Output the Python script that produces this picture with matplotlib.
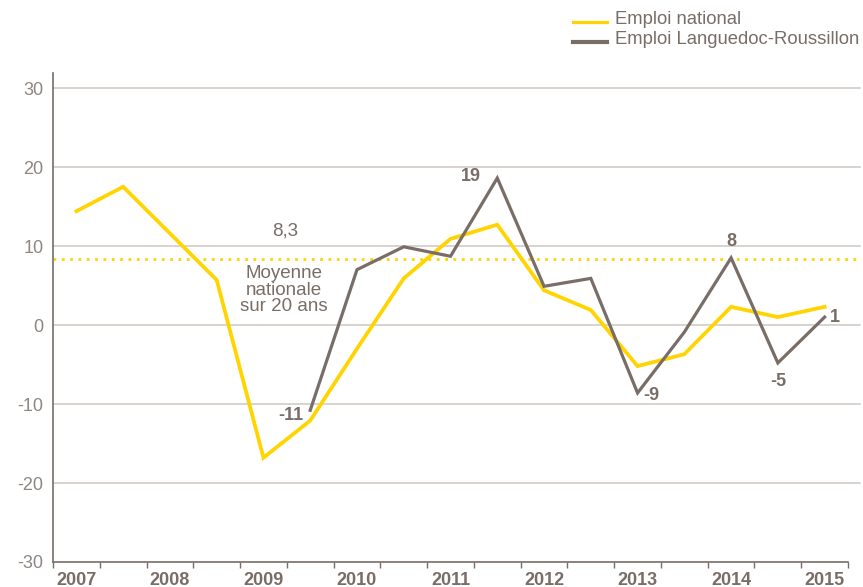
import numpy as np
import matplotlib.pyplot as plt

# semestres 2007-S1 ... 2015-S1
years = ['2007', '2008', '2009', '2010', '2011', '2012', '2013', '2014', '2015']
emploi_national = [14.4, 17.5, 11.6, 5.7, -16.8, -12.1, -3.0, 5.9, 10.9, 12.7,
                   4.4, 1.9, -5.2, -3.7, 2.3, 1.0, 2.3]
emploi_lr = [np.nan, np.nan, np.nan, np.nan, np.nan, -10.8, 7.0, 9.9, 8.7, 18.6,
             4.9, 5.9, -8.6, -0.9, 8.5, -4.8, 1.0]
moyenne_nationale = 8.3
labels_lr = {5: '-11', 9: '19', 12: '-9', 14: '8', 15: '-5', 16: '1'}

YELLOW = '#ffd400'
GREY = '#796d67'
GRID = '#cfc7c3'
LIGHT = '#8e8682'

plt.rcParams['font.family'] = ['Liberation Sans', 'DejaVu Sans']
plt.rcParams['axes.unicode_minus'] = False

fig = plt.figure(figsize=(8.63, 5.87), dpi=100)
ax = fig.add_axes([53 / 863, 25 / 587, 795 / 863, 489 / 587])

x = np.arange(len(emploi_national))
ax.set_xlim(-0.5, len(x) - 0.5)
ax.set_ylim(-30, 31.9)

# grille horizontale qui déborde un peu à droite
for v in range(-20, 31, 10):
    ax.axhline(v, xmin=0, xmax=1.015, color=GRID, lw=1.1, clip_on=False, zorder=1)
ax.axhline(moyenne_nationale, xmin=0, xmax=1.015, color=YELLOW, lw=2,
           linestyle=(0, (1, 2)), clip_on=False, zorder=2)

ax.plot(x, emploi_national, color=YELLOW, lw=2.7, zorder=3, solid_joinstyle='miter')
ax.plot(x, emploi_lr, color=GREY, lw=2.3, zorder=4, solid_joinstyle='miter')

# étiquettes de valeurs
offsets = {5: (-5, -4, 'right', 'center'), 9: (-12, 1, 'right', 'center'),
           12: (4, -2, 'left', 'center'), 14: (0, 6, 'center', 'bottom'),
           15: (0, -7, 'center', 'top'), 16: (4, 0, 'left', 'center')}
for i, txt in labels_lr.items():
    dx, dy, ha, va = offsets[i]
    ax.annotate(txt, (x[i], emploi_lr[i]), xytext=(dx, dy), textcoords='offset points',
                ha=ha, va=va, fontsize=13, fontweight='bold', color=GREY, zorder=5)

ax.text(4.46, 11.9, '8,3', ha='center', va='center', fontsize=13.5, color=GREY)
ax.text(4.44, 4.4, 'Moyenne\nnationale\nsur 20 ans', ha='center', va='center',
        fontsize=13.5, color=GREY, linespacing=0.98)

# axes
for s in ['top', 'right']:
    ax.spines[s].set_visible(False)
for s in ['left', 'bottom']:
    ax.spines[s].set_color(GREY)
    ax.spines[s].set_linewidth(1.2)

ax.set_yticks(range(-30, 31, 10))
ax.tick_params(axis='y', length=0, pad=7, labelsize=13, labelcolor=LIGHT)
ax.set_xticks(np.arange(-0.5, len(x), 1))
ax.set_xticklabels([])
ax.tick_params(axis='x', which='major', length=4, width=1, color=GREY, direction='out')
ax.set_xticks(np.arange(0, len(x), 2), minor=True)
ax.set_xticklabels(years, minor=True, fontsize=13, fontweight='bold', color=GREY)
ax.tick_params(axis='x', which='minor', length=0, pad=7)

# légende manuelle
fig.add_artist(plt.Line2D([573 / 863, 607 / 863], [1 - 22 / 587, 1 - 22 / 587],
                          color=YELLOW, lw=2.3))
fig.add_artist(plt.Line2D([573 / 863, 607 / 863], [1 - 42 / 587, 1 - 42 / 587],
                          color=GREY, lw=3))
fig.text(615 / 863, 1 - 19 / 587, 'Emploi national', ha='left', va='center',
         fontsize=13.3, color=GREY)
fig.text(615 / 863, 1 - 40 / 587, 'Emploi Languedoc-Roussillon', ha='left', va='center',
         fontsize=13.3, color=GREY)

fig.savefig('out.png', dpi=100)
